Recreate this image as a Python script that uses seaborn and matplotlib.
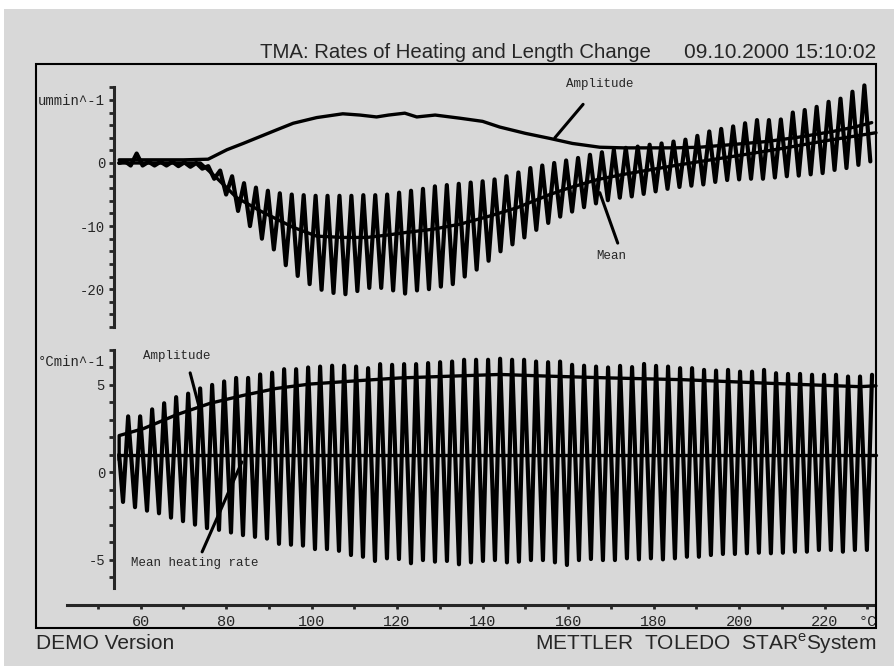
import numpy as np
import seaborn as sns
import matplotlib
matplotlib.use("Agg")
import matplotlib.pyplot as plt
from matplotlib.patches import Rectangle

# ---------------- values ----------------
# top panel: rate of length change (um/min), one peak / trough per modulation cycle
len_start = (55.0, 0.0)
len_first_peak = 56.3       # °C
len_cycle = 2.79            # °C per modulation cycle
len_peaks = [0.3, 1.5, 0.2, 0.2, 0.2, 0.1, 0.0, -0.5, -1.2, -2.1,
             -3.2, -3.9, -4.4, -4.8, -5.0, -5.1, -5.2, -5.2, -5.2, -5.2,
             -5.1, -5.1, -5.0, -4.7, -4.4, -4.1, -3.7, -3.5, -3.3, -3.1,
             -2.9, -2.6, -2.1, -1.5, -0.8, -0.4, 0.0, 0.4, 0.8, 1.3,
             1.7, 2.1, 2.4, 2.6, 2.9, 3.1, 3.4, 3.7, 4.3, 5.0,
             5.4, 5.8, 6.3, 6.8, 6.8, 6.9, 8.0, 8.4, 8.9, 9.7,
             10.2, 11.3, 12.3]
len_troughs = [-0.4, -0.4, -0.4, -0.4, -0.5, -0.6, -0.9, -2.5, -5.0, -7.6,
               -10.0, -12.0, -13.7, -16.2, -17.9, -19.2, -20.1, -20.6, -20.8, -20.3,
               -19.8, -19.8, -20.2, -20.7, -20.2, -20.0, -19.6, -19.2, -18.0, -16.9,
               -15.5, -14.0, -12.9, -11.8, -10.6, -9.5, -8.5, -7.7, -7.0, -6.4,
               -5.9, -5.5, -5.3, -4.9, -4.5, -4.1, -3.8, -3.6, -3.4, -3.0,
               -2.7, -2.6, -2.5, -2.5, -2.3, -2.1, -2.0, -1.8, -1.6, -1.1,
               -0.8, -0.3, 0.25]
len_mean_T = [55, 60, 65, 70, 74, 78, 82.5, 88, 95.7, 101.2, 107.4, 113, 118, 122.2,
              128.4, 134.7, 141.7, 148, 155.7, 160, 167, 173, 179, 185, 191, 200,
              210, 220, 232]
len_mean = [0.0, 0.0, 0.0, 0.0, 0.0, -2.5, -5.5, -7.6, -10.2, -11.6, -11.8, -11.8,
            -11.4, -11.0, -10.5, -9.7, -8.4, -7.1, -5.0, -4.0, -2.6, -1.8, -1.1,
            -0.4, 0.25, 1.2, 2.3, 3.5, 4.8]
len_amp_T = [55, 60, 65, 70, 75.8, 80.2, 84, 88, 92, 95.7, 101.2, 107.3, 111.3,
             115.2, 118, 121.8, 124.6, 128.9, 134.7, 140, 144, 150, 155.7, 161,
             167.4, 173, 179, 185, 190.8, 198, 206.4, 214, 221.9, 227, 231]
len_amp = [0.5, 0.5, 0.5, 0.5, 0.6, 2.1, 3.1, 4.2, 5.3, 6.3, 7.2, 7.8, 7.6, 7.3,
           7.6, 7.9, 7.3, 7.6, 7.1, 6.6, 5.7, 4.7, 3.9, 3.1, 2.5, 2.4, 2.4, 2.4,
           2.5, 2.9, 3.4, 4.1, 5.0, 5.7, 6.4]

# bottom panel: heating rate (°C/min)
heat_start = (55.0, 1.0)
heat_first_peak = 57.1
heat_cycle = 2.806
heat_trough_lead = 1.2      # trough comes this many °C before its peak
heat_peaks = [3.2, 3.2, 3.6, 3.95, 4.3, 4.5, 4.8, 5.0, 5.2, 5.4,
              5.4, 5.6, 5.7, 5.9, 5.9, 6.0, 6.05, 6.1, 6.1, 6.05,
              5.96, 6.19, 6.15, 6.19, 6.19, 6.25, 6.3, 6.34, 6.44, 6.44,
              6.44, 6.5, 6.44, 6.44, 6.34, 6.3, 6.34, 6.15, 6.1, 6.05,
              6.0, 6.09, 6.02, 6.2, 6.09, 6.05, 5.96, 5.96, 5.86, 5.82,
              5.86, 5.76, 5.76, 5.86, 5.67, 5.63, 5.63, 5.58, 5.58, 5.58,
              5.48, 5.48, 5.58]
heat_troughs = [-1.7, -2.0, -2.2, -2.35, -2.6, -2.8, -3.0, -3.2, -3.3, -3.45,
                -3.6, -3.7, -3.8, -4.1, -4.15, -4.2, -4.4, -4.4, -4.5, -4.74,
                -4.84, -5.08, -4.93, -4.97, -5.21, -5.03, -5.12, -5.08, -5.27, -5.16,
                -5.08, -5.03, -5.16, -5.12, -5.03, -5.03, -5.16, -5.31, -5.03, -4.97,
                -5.03, -5.03, -4.93, -4.99, -4.93, -4.99, -4.93, -4.84, -4.84, -4.74,
                -4.68, -4.68, -4.64, -4.61, -4.64, -4.61, -4.55, -4.55, -4.45, -4.45,
                -4.55, -4.45, -4.45]
heat_amp_T = [55.0, 55.0, 60.7, 68.5, 76.3, 84, 91.8, 99.6, 111.3, 120.7, 132.4,
              144, 155.7, 169.8, 186.9, 206.4, 228.2, 232]
heat_amp = [0.7, 2.1, 2.5, 3.3, 3.95, 4.4, 4.8, 5.05, 5.25, 5.4, 5.5, 5.6, 5.5,
            5.4, 5.3, 5.1, 4.9, 4.95]
heat_mean_T = [55.0, 232.0]
heat_mean = [1.0, 1.0]

x_ticks = list(range(50, 231, 10))
x_ticklabels = ['' if t % 20 else str(t) for t in x_ticks[:-1]] + ['°C']
top_ylabels = {10: 'ummin^-1', 0: '0', -10: '-10', -20: '-20'}
bot_ylabels = {5: '5', 0: '0', -5: '-5'}

# ---------------- build the modulated raw signals ----------------
k = np.arange(len(len_peaks))
lp_T = len_first_peak + len_cycle * k
len_x = np.r_[len_start[0], np.column_stack([lp_T, lp_T + len_cycle / 2]).ravel()]
len_y = np.r_[len_start[1], np.column_stack([len_peaks, len_troughs]).ravel()]

k = np.arange(len(heat_peaks))
hp_T = heat_first_peak + heat_cycle * k
heat_x = np.r_[heat_start[0], np.column_stack([hp_T - heat_trough_lead, hp_T]).ravel()]
heat_y = np.r_[heat_start[1], np.column_stack([heat_troughs, heat_peaks]).ravel()]

# ---------------- figure ----------------
W, H = 895, 666
sns.set_style("ticks")
plt.rcParams['font.family'] = ['Liberation Mono', 'DejaVu Sans Mono']
plt.rcParams['mathtext.fontset'] = 'custom'
plt.rcParams['mathtext.rm'] = 'Liberation Sans'

GREY = '#d8d8d8'
SANS = ['Liberation Sans', 'DejaVu Sans']


def fbox(x0, y0, x1, y1):
    # pixel box (top-left origin) -> figure fraction rect
    return [x0 / W, 1 - y1 / H, (x1 - x0) / W, (y1 - y0) / H]


fig = plt.figure(figsize=(W / 100, H / 100), dpi=100, facecolor='white')
fig.patches.append(Rectangle((4 / W, 0), 1 - 4 / W, 1 - 9 / H, transform=fig.transFigure,
                             facecolor=GREY, edgecolor='none', zorder=-10))
fig.patches.append(Rectangle((36 / W, 1 - 628 / H), 840 / W, 564.5 / H, transform=fig.transFigure,
                             fill=False, edgecolor='black', lw=1.5, zorder=5))

xlim = (42.8, 231.3)
y_spine_x = 53.8
ax1 = fig.add_axes(fbox(67, 87.3, 873, 327))
ax2 = fig.add_axes(fbox(67, 350, 873, 587.5))

line_kw = dict(color='black', estimator=None, sort=False, clip_on=False, legend=False)

# top panel
sns.lineplot(x=len_x, y=len_y, ax=ax1, lw=3.0, **line_kw)
sns.lineplot(x=len_mean_T, y=len_mean, ax=ax1, lw=2.4, **line_kw)
sns.lineplot(x=len_amp_T, y=len_amp, ax=ax1, lw=2.4, **line_kw)

# bottom panel
sns.lineplot(x=heat_x, y=heat_y, ax=ax2, lw=3.0, **line_kw)
sns.lineplot(x=heat_mean_T, y=heat_mean, ax=ax2, lw=2.4, **line_kw)
sns.lineplot(x=heat_amp_T, y=heat_amp, ax=ax2, lw=2.4, **line_kw)

for ax in (ax1, ax2):
    ax.set_facecolor('none')
    ax.set_xlim(xlim)
    ax.set_xlabel('')
    ax.set_ylabel('')
    ax.spines['top'].set_visible(False)
    ax.spines['right'].set_visible(False)
    ax.spines['left'].set_position(('data', y_spine_x))
    ax.spines['left'].set_linewidth(2.2)
    ax.tick_params(axis='y', direction='out', length=3.5, width=2.0, pad=3, labelsize=10)

ax1.set_ylim(-26, 12)
ax1.spines['bottom'].set_visible(False)
ax1.set_xticks([])
yt = list(range(-26, 13, 2))
ax1.set_yticks(yt)
ax1.set_yticklabels([top_ylabels.get(v, '') for v in yt])

ax2.set_ylim(-6.6, 7)
yt = list(range(-6, 8))
ax2.set_yticks(yt)
ax2.set_yticklabels([bot_ylabels.get(v, '') for v in yt])
ax2.text(51.7, 6.3, '°Cmin^-1', ha='right', va='center', fontsize=10)
ax2.spines['bottom'].set_position(('outward', 12.6))
ax2.spines['bottom'].set_linewidth(2.2)
ax2.set_xticks(x_ticks)
ax2.set_xticklabels(x_ticklabels)
ax2.tick_params(axis='x', direction='out', length=3, width=2.0, pad=4, labelsize=11)

# annotations with leader lines
lead = dict(arrowstyle='-', lw=2.2, color='black', shrinkA=0, shrinkB=0)
ax1.text(167.4, 12.6, 'Amplitude', ha='center', va='center', fontsize=9)
ax1.annotate('', xy=(156.9, 4.0), xytext=(163.5, 9.3), arrowprops=lead, annotation_clip=False)
ax1.text(170.1, -14.8, 'Mean', ha='center', va='center', fontsize=9)
ax1.annotate('', xy=(167.4, -4.7), xytext=(171.6, -12.7), arrowprops=lead)
ax2.text(68.5, 6.66, 'Amplitude', ha='center', va='center', fontsize=9)
ax2.annotate('', xy=(73.7, 3.74), xytext=(71.6, 5.69), arrowprops=lead)
ax2.text(72.6, -5.2, 'Mean heating rate', ha='center', va='center', fontsize=9)
ax2.annotate('', xy=(83.7, 0.59), xytext=(74.4, -4.56), arrowprops=lead)

# header / footer
fig.text(260 / W, 1 - 58.3 / H, 'TMA: Rates of Heating and Length Change',
         family=SANS, fontsize=14.7, va='baseline')
fig.text(876 / W, 1 - 58.3 / H, '09.10.2000 15:10:02',
         family=SANS, fontsize=15, va='baseline', ha='right')
fig.text(36 / W, 1 - 649.3 / H, 'DEMO Version', family=SANS, fontsize=15, va='baseline')
fig.text(876 / W, 1 - 649.3 / H, 'METTLER  TOLEDO  STAR$^{\\mathrm{e}}$System',
         family=SANS, fontsize=15, va='baseline', ha='right')

fig.savefig('out.png', dpi=100, facecolor=fig.get_facecolor())
